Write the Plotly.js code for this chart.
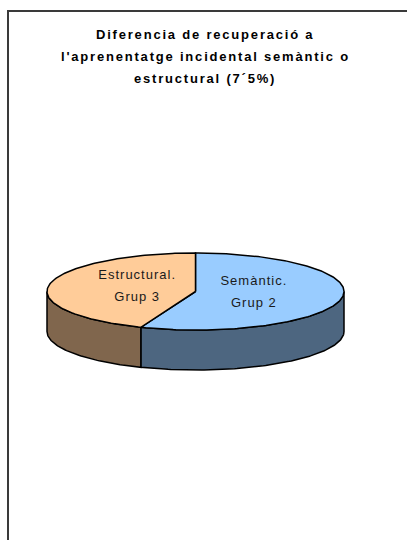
<!DOCTYPE html>
<html>
<head>
<meta charset="utf-8">
<script src="https://cdn.plot.ly/plotly-3.0.1.min.js"></script>
<style>
html,body{margin:0;padding:0;background:#fff;}
#chart{width:407px;height:540px;}
.annotation-text{letter-spacing:1.8px;}
.textpoint text{letter-spacing:1px;}
</style>
</head>
<body>
<div id="chart"></div>
<script>
// ---- data ----
const categories = ["Semàntic.", "Estructural."];
const groupLabels = ["Grup 2", "Grup 3"];
const values = [56, 44];
const titleLines = ["Diferencia de recuperació a", "l'aprenentatge incidental semàntic o", "estructural (7´5%)"];

// ---- style / geometry ----
const topColors = ["#99CCFF", "#FFCC99"];
const sideColors = ["#4D6680", "#80664D"];
const cx = 195.5, cy = 291.5, rx = 148.5, ry = 38.5, depth = 40;

const total = values.reduce((a, b) => a + b, 0);
const rad = d => d * Math.PI / 180;
const px = (a) => cx + rx * Math.sin(rad(a));
const py = (a, off) => cy - ry * Math.cos(rad(a)) + (off || 0);

const traces = [];
let start = 0;
const slices = values.map((v, i) => {
  const a1 = start, a2 = start + v / total * 360;
  start = a2;
  return {a1, a2, i};
});

// sides (front half only, 90..270 deg)
slices.forEach(s => {
  const lo = Math.max(s.a1, 90), hi = Math.min(s.a2, 270);
  if (hi <= lo) return;
  const xs = [], ys = [];
  const n = Math.max(2, Math.ceil(hi - lo));
  for (let k = 0; k <= n; k++) { const a = lo + (hi - lo) * k / n; xs.push(px(a)); ys.push(py(a)); }
  for (let k = n; k >= 0; k--) { const a = lo + (hi - lo) * k / n; xs.push(px(a)); ys.push(py(a, depth)); }
  xs.push(xs[0]); ys.push(ys[0]);
  traces.push({type: "scatter", mode: "lines", x: xs, y: ys, fill: "toself",
    fillcolor: sideColors[s.i], line: {color: "#000", width: 1.5}, hoverinfo: "skip", showlegend: false});
});

// tops
slices.forEach(s => {
  const xs = [cx], ys = [cy];
  const n = Math.ceil(s.a2 - s.a1);
  for (let k = 0; k <= n; k++) { const a = s.a1 + (s.a2 - s.a1) * k / n; xs.push(px(a)); ys.push(py(a)); }
  xs.push(cx); ys.push(cy);
  traces.push({type: "scatter", mode: "lines", x: xs, y: ys, fill: "toself",
    fillcolor: topColors[s.i], line: {color: "#000", width: 1.5}, hoverinfo: "skip", showlegend: false});
});

// labels (two lines each, 22px apart)
const lx = [], ly = [], lt = [];
slices.forEach(s => {
  const m = (s.a1 + s.a2) / 2;
  const x = cx + 0.4 * rx * Math.sin(rad(m));
  const y = cy - 0.4 * ry * Math.cos(rad(m)) - 2;
  lx.push(x, x); ly.push(y - 11, y + 11);
  lt.push(categories[s.i], groupLabels[s.i]);
});
traces.push({type: "scatter", mode: "text", x: lx, y: ly, text: lt, textposition: "middle center",
  textfont: {family: "Arial, 'Liberation Sans', sans-serif", size: 13, color: "#1a1a1a"},
  hoverinfo: "skip", showlegend: false});

const annotations = titleLines.map((t, i) => ({
  text: "<b>" + t + "</b>", x: 205, y: 34 + i * 22, xref: "x", yref: "y",
  xanchor: "center", yanchor: "middle", showarrow: false,
  font: {family: "Arial, 'Liberation Sans', sans-serif", size: 13, color: "#000"}
}));

const layout = {
  width: 407, height: 540,
  margin: {l: 0, r: 0, t: 0, b: 0},
  paper_bgcolor: "#fff", plot_bgcolor: "#fff",
  xaxis: {range: [0, 407], visible: false, fixedrange: true},
  yaxis: {range: [540, 0], visible: false, fixedrange: true},
  showlegend: false,
  annotations: annotations,
  shapes: [{type: "rect", xref: "x", yref: "y", x0: 8, y0: 11, x1: 520, y1: 640,
    line: {color: "#3a3a3a", width: 2}, fillcolor: "rgba(0,0,0,0)", layer: "below"}]
};

Plotly.newPlot("chart", traces, layout, {displayModeBar: false, staticPlot: true});
</script>
</body>
</html>
